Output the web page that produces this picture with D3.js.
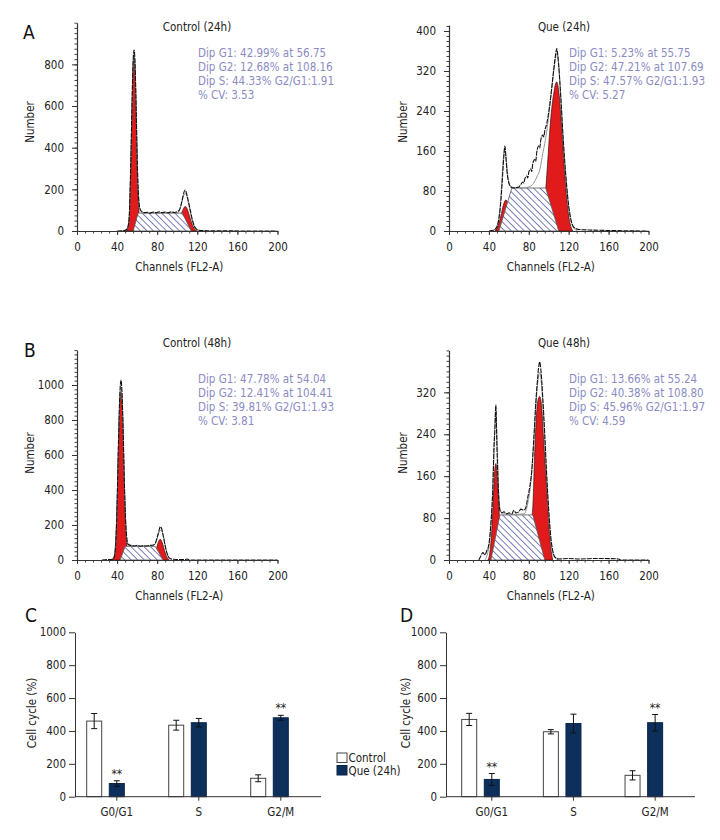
<!DOCTYPE html>
<html>
<head>
<meta charset="utf-8">
<script src="https://cdn.jsdelivr.net/npm/d3@7"></script>
<style>
  html, body { margin: 0; padding: 0; background: #fff; }
  svg { display: block; }
  text { font-family: 'DejaVu Sans Condensed', 'DejaVu Sans', sans-serif; font-stretch: condensed; }
</style>
</head>
<body>
<div id="chart"></div>
<script>
// ---------------- DATA ----------------
const histTitles = ["Control (24h)", "Que (24h)", "Control (48h)", "Que (48h)"];
const statsA1 = ["Dip G1: 42.99% at 56.75", "Dip G2: 12.68% at 108.16", "Dip S: 44.33% G2/G1:1.91", "% CV: 3.53"];
const statsA2 = ["Dip G1: 5.23% at 55.75", "Dip G2: 47.21% at 107.69", "Dip S: 47.57% G2/G1:1.93", "% CV: 5.27"];
const statsB1 = ["Dip G1: 47.78% at 54.04", "Dip G2: 12.41% at 104.41", "Dip S: 39.81% G2/G1:1.93", "% CV: 3.81"];
const statsB2 = ["Dip G1: 13.66% at 55.24", "Dip G2: 40.38% at 108.80", "Dip S: 45.96% G2/G1:1.97", "% CV: 4.59"];

const channelTicks = [0, 40, 80, 120, 160, 200];
const numberTicksA1 = [0, 200, 400, 600, 800];
const numberTicksA2 = [0, 80, 160, 240, 320, 400];
const numberTicksB1 = [0, 200, 400, 600, 800, 1000];
const numberTicksB2 = [0, 80, 160, 240, 320];

// Panel A left: Control (24h)  [channel, count]
const rawA1 = [[40,0],[45,1],[48,3],[50,10],[52,60],[53,200],[54,400],[55,640],[56,820],[57,869],[58,790],[59,590],[60,360],[61,200],[62,130],[63,105],[65,92],[67,88],[70,90],[73,86],[76,91],[79,87],[82,92],[85,88],[88,91],[91,87],[94,92],[97,89],[100,93],[102,100],[104,130],[106,172],[107,190],[108,197],[109,185],[111,145],[113,100],[115,55],[117,25],[119,10],[122,4],[126,2],[130,1],[200,0]];
const fitA1 = [[45,0],[50,8],[52,55],[54,390],[56,800],[57,845],[58,770],[59,575],[60,350],[61,195],[63,100],[66,86],[100,86],[103,108],[106,165],[108,180],[110,160],[112,112],[114,68],[116,34],[118,12],[121,2],[125,0]];
const g1A1 = [[49,0],[51,20],[52,60],[53,180],[54,380],[55,600],[56,780],[57,840],[58,760],[59,560],[60,330],[61,170],[62,80],[64,20],[66,0]];
const g2A1 = [[98,0],[102,40],[104,80],[106,105],[108,118],[110,105],[112,75],[114,45],[116,20],[118,5],[120,0]];
const sA1 = [[56,0],[61,86],[105,86],[114,0]];

// Panel A right: Que (24h)
const rawA2 = [[40,0],[45,2],[48,8],[50,25],[52,60],[54,120],[55,150],[56,170],[57,150],[58,122],[60,96],[62,88],[65,86],[68,87],[70,88],[72,93],[74,98],[75,96],[76,104],[78,110],[79,106],[80,118],[82,124],[83,119],[84,135],[86,143],[87,139],[88,158],[90,170],[91,166],[92,182],[94,192],[95,188],[96,200],[98,215],[100,238],[102,268],[104,305],[106,340],[107,355],[108,365],[109,352],[110,330],[112,270],[114,200],[116,140],[118,90],[120,50],[122,25],[125,8],[130,3],[140,2],[160,1],[200,0]];
const fitA2 = [[44,0],[48,10],[51,40],[53,100],[55,155],[56,163],[57,150],[59,110],[61,92],[65,87],[75,86],[80,88],[85,96],[88,108],[91,122],[94,155],[96,175],[98,200],[100,232],[103,285],[106,335],[108,355],[110,332],[112,268],[114,198],[116,135],[118,85],[120,45],[123,15],[127,2],[130,0]];
const g1A2 = [[46,0],[48,5],[50,15],[52,30],[54,48],[56,60],[57,62],[58,60],[60,48],[62,30],[64,15],[66,5],[68,0]];
const g2A2 = [[88,0],[94,50],[97,85],[99,140],[101,200],[103,245],[105,275],[107,295],[108,298],[110,280],[112,235],[114,175],[116,115],[118,65],[120,30],[122,10],[124,0]];
const sA2 = [[50,0],[63,86],[97,86],[110,0]];

// Panel B left: Control (48h)
const rawB1 = [[25,0],[30,3],[33,2],[36,6],[37,15],[38,40],[39,130],[40,320],[41,580],[42,820],[43,980],[44,1029],[45,940],[46,750],[47,500],[48,300],[49,170],[50,110],[51,90],[54,82],[57,80],[60,84],[63,79],[66,82],[69,80],[72,83],[75,84],[78,95],[80,130],[82,172],[83,190],[84,185],[86,140],[88,80],[90,35],[92,12],[95,5],[100,3],[108,2],[110,6],[112,0],[200,0]];
const fitB1 = [[34,0],[36,8],[38,35],[40,300],[42,800],[43,950],[44,990],[45,920],[46,730],[47,480],[48,290],[49,160],[51,88],[60,80],[75,80],[78,92],[80,122],[82,160],[84,170],[86,138],[88,80],[90,35],[92,10],[95,0]];
const g1B1 = [[35,0],[37,20],[38,60],[39,160],[40,330],[41,560],[42,780],[43,930],[44,960],[45,900],[46,720],[47,480],[48,280],[49,150],[50,70],[52,15],[54,0]];
const g2B1 = [[74,0],[77,30],[79,60],[81,100],[83,118],[85,100],[87,60],[89,25],[91,5],[92,0]];
const sB1 = [[43,0],[48,78],[78,78],[86,0]];

// Panel B right: Que (48h)
const rawB2 = [[30,0],[32,8],[34,14],[36,10],[38,18],[40,30],[42,70],[44,140],[45,210],[46,250],[47,296],[48,220],[49,160],[50,115],[51,95],[53,90],[55,92],[58,88],[60,90],[63,88],[65,95],[67,90],[70,92],[72,97],[75,95],[77,100],[79,120],[81,140],[83,170],[85,230],[87,300],[89,350],[90,370],[91,378],[92,365],[94,310],[96,240],[98,160],[100,95],[102,45],[104,18],[106,6],[110,2],[120,3],[130,2],[150,3],[170,2],[172,0],[200,0]];
const fitB2 = [[36,0],[40,25],[43,100],[45,200],[46,258],[47,282],[48,238],[50,120],[52,92],[60,87],[75,88],[79,108],[82,148],[84,198],[86,258],[88,318],[90,352],[91,358],[93,328],[95,262],[97,188],[99,118],[101,58],[103,22],[106,5],[110,0]];
const g1B2 = [[39,0],[41,15],[43,60],[45,140],[46,175],[47,184],[48,170],[49,140],[50,100],[51,70],[53,30],[55,8],[57,0]];
const g2B2 = [[76,0],[80,40],[83,80],[84,100],[86,210],[88,285],[90,310],[91,312],[93,290],[95,225],[97,165],[99,100],[101,45],[103,10],[104,0]];
const sB2 = [[42,0],[51,86],[84,86],[96,0]];

// Bar charts (C and D)
const phases = ["G0/G1", "S", "G2/M"];
const seriesNames = ["Control", "Que (24h)"];
const cellTicks = [0, 200, 400, 600, 800, 1000];
const ctrlC = [460, 435, 112];
const ctrlCErr = [46, 30, 21];
const queC = [80, 450, 480];
const queCErr = [17, 26, 15];
const sigC = ["**", "", "**"];
const ctrlD = [470, 395, 130];
const ctrlDErr = [37, 13, 28];
const queD = [105, 445, 450];
const queDErr = [36, 57, 50];
const sigD = ["**", "", "**"];

// ---------------- DRAWING ----------------
const W = 720, H = 840;
const svg = d3.select("#chart").append("svg").attr("width", W).attr("height", H)
  .attr("viewBox", `0 0 ${W} ${H}`);
svg.append("rect").attr("width", W).attr("height", H).attr("fill", "#fff");

const defs = svg.append("defs");
const pat = defs.append("pattern").attr("id", "hatch")
  .attr("patternUnits", "userSpaceOnUse").attr("width", 4.6).attr("height", 4.6)
  .attr("patternTransform", "rotate(-45)");
pat.append("rect").attr("width", 4.6).attr("height", 4.6).attr("fill", "#fff");
pat.append("line").attr("x1", 0).attr("y1", 0).attr("x2", 0).attr("y2", 4.6)
  .attr("stroke", "#5b61a8").attr("stroke-width", 1.6);

const ink = "#222";
const statColor = "#8b8bc4";

function panelLetter(t, x, y) {
  svg.append("text").attr("x", x).attr("y", y).attr("font-size", 19).attr("fill", "#111").text(t);
}

function drawHist(cfg) {
  const x = d3.scaleLinear().domain([0, 200]).range([cfg.x0, cfg.x1]);
  const y = d3.scaleLinear().domain([0, cfg.yMax]).range([cfg.yBase, cfg.yTop]);
  const g = svg.append("g");
  const area = d3.area().x(d => x(d[0])).y0(y(0)).y1(d => y(d[1])).curve(d3.curveMonotoneX);
  const poly = d3.line().x(d => x(d[0])).y(d => y(d[1]));
  const line = d3.line().x(d => x(d[0])).y(d => y(d[1])).curve(d3.curveMonotoneX);

  [cfg.g1, cfg.g2].forEach(pk => {
    g.append("path").datum(pk).attr("d", area)
      .attr("fill", "#e11b1b").attr("stroke", "#3a0d0d").attr("stroke-width", 0.7);
  });
  g.append("path").attr("d", poly(cfg.s) + "Z")
    .attr("fill", "url(#hatch)").attr("stroke", "#555").attr("stroke-width", 0.8);
  g.append("path").datum(cfg.fit).attr("d", line)
    .attr("fill", "none").attr("stroke", "#8a8a8a").attr("stroke-width", 0.9);
  g.append("path").datum(cfg.raw).attr("d", line)
    .attr("fill", "none").attr("stroke", "#111").attr("stroke-width", 1.1)
    .attr("stroke-dasharray", "5,1");

  const minorY = d3.range(0, cfg.yMax + 1e-6, cfg.yMinor);
  g.append("g").attr("transform", `translate(${cfg.x0},0)`)
    .call(d3.axisLeft(y).tickValues(minorY).tickSize(2.5).tickFormat(""))
    .call(a => a.select(".domain").remove())
    .call(a => a.selectAll("line").attr("stroke", "#444"));
  g.append("g").attr("transform", `translate(${cfg.x0},0)`)
    .call(d3.axisLeft(y).tickValues(cfg.yTicks).tickSize(5).tickPadding(8).tickSizeOuter(0).tickFormat(d3.format("d")))
    .call(a => a.select(".domain").attr("stroke", "#333").attr("stroke-width", 1.2))
    .call(a => a.selectAll("line").attr("stroke", "#333"))
    .call(a => a.selectAll("text").attr("font-size", 11.5).attr("fill", ink));

  g.append("g").attr("transform", `translate(0,${cfg.yBase})`)
    .call(d3.axisBottom(x).tickValues(d3.range(0, 201, 8)).tickSize(2.5).tickFormat(""))
    .call(a => a.select(".domain").remove())
    .call(a => a.selectAll("line").attr("stroke", "#444"));
  g.append("g").attr("transform", `translate(0,${cfg.yBase})`)
    .call(d3.axisBottom(x).tickValues(channelTicks).tickSize(4).tickPadding(8).tickSizeOuter(0))
    .call(a => a.select(".domain").attr("stroke", "#333").attr("stroke-width", 1.2))
    .call(a => a.selectAll("line").attr("stroke", "#333"))
    .call(a => a.selectAll("text").attr("font-size", 11.5).attr("fill", ink));

  g.append("text").attr("x", (cfg.x0 + cfg.x1) / 2 + 2).attr("y", cfg.yBase + 40)
    .attr("text-anchor", "middle").attr("font-size", 11.5).attr("fill", ink).text("Channels (FL2-A)");
  g.append("text").attr("transform", `translate(${cfg.numberX},${cfg.numberY}) rotate(-90)`)
    .attr("text-anchor", "middle").attr("font-size", 11.5).attr("fill", ink).text("Number");
  g.append("text").attr("x", cfg.titleX).attr("y", cfg.titleY)
    .attr("text-anchor", "middle").attr("font-size", 11.5).attr("fill", ink).text(cfg.title);
  g.selectAll(".stat").data(cfg.stats).enter().append("text")
    .attr("x", cfg.statsX).attr("y", (d, i) => cfg.statsY + i * 13.9)
    .attr("font-size", 11.5).attr("fill", statColor).text(d => d);
}

drawHist({x0: 77, x1: 277.5, yBase: 231, yTop: 22.7, yMax: 1000, yMinor: 25, yTicks: numberTicksA1,
  raw: rawA1, fit: fitA1, g1: g1A1, g2: g2A1, s: sA1, title: histTitles[0], titleX: 197, titleY: 31,
  stats: statsA1, statsX: 198, statsY: 57, numberX: 34, numberY: 122});
drawHist({x0: 449, x1: 648.5, yBase: 231, yTop: 25, yMax: 412, yMinor: 10, yTicks: numberTicksA2,
  raw: rawA2, fit: fitA2, g1: g1A2, g2: g2A2, s: sA2, title: histTitles[1], titleX: 564, titleY: 31,
  stats: statsA2, statsX: 569, statsY: 57, numberX: 407, numberY: 122});
drawHist({x0: 77, x1: 277.5, yBase: 560, yTop: 350, yMax: 1200, yMinor: 25, yTicks: numberTicksB1,
  raw: rawB1, fit: fitB1, g1: g1B1, g2: g2B1, s: sB1, title: histTitles[2], titleX: 197, titleY: 347,
  stats: statsB1, statsX: 198, statsY: 383, numberX: 34, numberY: 453});
drawHist({x0: 449, x1: 648.5, yBase: 560, yTop: 350.4, yMax: 400, yMinor: 10, yTicks: numberTicksB2,
  raw: rawB2, fit: fitB2, g1: g1B2, g2: g2B2, s: sB2, title: histTitles[3], titleX: 564, titleY: 347,
  stats: statsB2, statsX: 569, statsY: 383, numberX: 407, numberY: 453});

panelLetter("A", 23, 39);
panelLetter("B", 24, 357);
panelLetter("C", 25, 622);
panelLetter("D", 400, 622);

function drawBars(cfg) {
  const y = d3.scaleLinear().domain([0, 1000]).range([796.7, 632.3]);
  const x0 = d3.scaleBand().domain(phases).range([cfg.bandStart, cfg.bandEnd]);
  const x1 = d3.scaleBand().domain(seriesNames).range([11.7, 49.3]).paddingInner(0.336);
  const g = svg.append("g");
  const rows = phases.map((p, i) => ({p, vals: [
    {s: seriesNames[0], v: cfg.ctrl[i], e: cfg.ctrlErr[i], sig: ""},
    {s: seriesNames[1], v: cfg.que[i], e: cfg.queErr[i], sig: cfg.sig[i]}]}));
  const grp = g.selectAll(".grp").data(rows).enter().append("g")
    .attr("transform", d => `translate(${x0(d.p)},0)`);
  grp.selectAll("rect").data(d => d.vals).enter().append("rect")
    .attr("x", d => x1(d.s)).attr("width", x1.bandwidth())
    .attr("y", d => y(d.v)).attr("height", d => y(0) - y(d.v))
    .attr("fill", d => d.s === seriesNames[0] ? "#fff" : "#0c2f5c")
    .attr("stroke", d => d.s === seriesNames[0] ? "#444" : "#0a2448").attr("stroke-width", 1);
  const eb = grp.selectAll(".eb").data(d => d.vals).enter().append("g");
  const cx = d => x1(d.s) + x1.bandwidth() / 2;
  eb.append("line").attr("x1", cx).attr("x2", cx)
    .attr("y1", d => y(d.v + d.e)).attr("y2", d => y(d.v - d.e))
    .attr("stroke", "#111").attr("stroke-width", 1);
  eb.append("line").attr("x1", d => cx(d) - 3).attr("x2", d => cx(d) + 3)
    .attr("y1", d => y(d.v + d.e)).attr("y2", d => y(d.v + d.e)).attr("stroke", "#111");
  eb.append("line").attr("x1", d => cx(d) - 3).attr("x2", d => cx(d) + 3)
    .attr("y1", d => y(d.v - d.e)).attr("y2", d => y(d.v - d.e)).attr("stroke", "#111");
  eb.append("text").attr("x", cx).attr("y", d => y(d.v + d.e) - 3)
    .attr("text-anchor", "middle").attr("font-size", 12).attr("fill", "#222").text(d => d.sig);

  g.append("g").attr("transform", `translate(${cfg.axisX},0)`)
    .call(d3.axisLeft(y).tickValues(cellTicks).tickSize(6).tickPadding(3).tickSizeOuter(0).tickFormat(d3.format("d")))
    .call(a => a.select(".domain").attr("stroke", "#333"))
    .call(a => a.selectAll("line").attr("stroke", "#333"))
    .call(a => a.selectAll("text").attr("font-size", 11.5).attr("fill", ink));
  g.append("line").attr("x1", cfg.axisX).attr("x2", cfg.bandEnd)
    .attr("y1", y(0)).attr("y2", y(0)).attr("stroke", "#333").attr("stroke-width", 1);
  phases.forEach(p => {
    const cxp = x0(p) + x1(seriesNames[1]) + x1.bandwidth() / 2;
    g.append("line").attr("x1", cxp).attr("x2", cxp).attr("y1", y(0)).attr("y2", y(0) + 4)
      .attr("stroke", "#333");
    g.append("text").attr("x", cxp).attr("y", y(0) + 19).attr("text-anchor", "middle")
      .attr("font-size", 11.5).attr("fill", ink).text(p);
  });
  g.append("text").attr("transform", `translate(${cfg.labelX},713) rotate(-90)`)
    .attr("text-anchor", "middle").attr("font-size", 11.5).attr("fill", ink).text("Cell cycle (%)");
}

drawBars({bandStart: 75, bandEnd: 321, axisX: 75, labelX: 36, ctrl: ctrlC, ctrlErr: ctrlCErr, que: queC, queErr: queCErr, sig: sigC});
drawBars({bandStart: 450, bandEnd: 695, axisX: 446, labelX: 410, ctrl: ctrlD, ctrlErr: ctrlDErr, que: queD, queErr: queDErr, sig: sigD});

const leg = svg.append("g").attr("transform", "translate(337,753)");
seriesNames.forEach((n, i) => {
  leg.append("rect").attr("x", 0).attr("y", i * 12.5).attr("width", 10).attr("height", 9.5)
    .attr("fill", i === 0 ? "#fff" : "#0c2f5c").attr("stroke", i === 0 ? "#444" : "#0a2448");
  leg.append("text").attr("x", 11.5).attr("y", i * 12.5 + 9).attr("font-size", 11.5)
    .attr("fill", ink).text(n);
});
</script>
</body>
</html>
